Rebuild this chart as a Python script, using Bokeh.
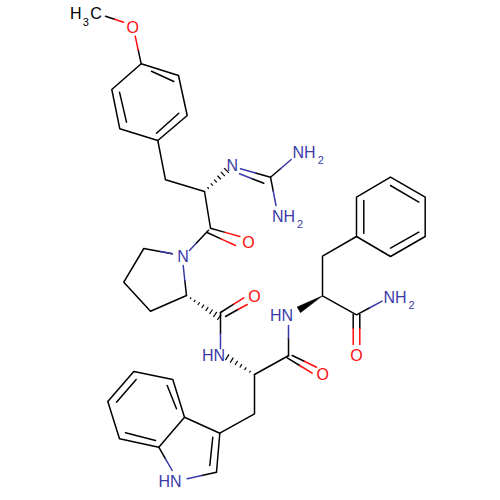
from bokeh.plotting import figure
from bokeh.models import Range1d
from bokeh.embed import file_html
from bokeh.resources import INLINE
from bokeh.core.properties import value

BLACK = "#000000"
BLUE = "#3a3aa8"
RED = "#ff0d0d"

# --- Black bond chains (picture coordinates, y grows downward) ---
methyl_x = [105, 114]; methyl_y = [15.7, 18.7]
ether_x = [137.7, 140.7]; ether_y = [49.5, 63.3]
tyr_ring_x = [140.7, 178, 186.7, 157.3, 119.3, 111.3, 140.7]
tyr_ring_y = [63.3, 75, 115, 140, 128.3, 89, 63.3]
tyr_d1_x = [151, 173.3]; tyr_d1_y = [70.7, 81]
tyr_d2_x = [178.3, 156]; tyr_d2_y = [112.7, 132.7]
tyr_d3_x = [126, 119]; tyr_d3_y = [121.7, 91.7]
tyr_chain_x = [157.3, 165, 204, 210]; tyr_chain_y = [140, 179.3, 191, 227.7]
tyr_co1_x = [210, 224.6]; tyr_co1_y = [227.7, 231.9]
tyr_co2_x = [206, 220.5]; tyr_co2_y = [231.7, 238.4]
tyr_cn_x = [208, 195.5]; tyr_cn_y = [229.7, 243]
guan1_x = [255, 270]; guan1_y = [172.5, 176.7]
guan2_x = [251, 263.3]; guan2_y = [178, 182.7]
guan3_x = [280.3, 270, 272.8]; guan3_y = [168, 176.7, 190.8]

pro_ring_x = [171.7, 143.3, 123.3, 150, 186, 184.3]
pro_ring_y = [253.3, 248, 281.7, 310.7, 295, 280]
pro_co1_x = [220, 233.3]; pro_co1_y = [312, 303.7]
pro_co2_x = [225, 237.5]; pro_co2_y = [316, 309]
pro_cn_x = [220, 220]; pro_cn_y = [312, 333]

trp_chain_x = [288.3, 254, 254, 219.3]; trp_chain_y = [355, 374, 413.3, 432.7]
trp_n_x = [288, 288]; trp_n_y = [338, 355]
trp_co1_x = [291.7, 303.8]; trp_co1_y = [355, 360.8]
trp_co2_x = [286.7, 299.2]; trp_co2_y = [357.3, 365]
indole_a_x = [216, 219.3, 184, 172.3, 133.3, 107.3, 119, 158.3, 184]
indole_a_y = [471.7, 432.7, 416.7, 379, 371, 401, 438.3, 446.7, 416.7]
indole_b_x = [216, 201.3]; indole_b_y = [471.7, 475]
indole_c_x = [158.3, 165]; indole_c_y = [446.7, 458.3]
indole_d1_x = [176, 166.7]; indole_d1_y = [408.3, 385]
indole_d2_x = [135.7, 116]; indole_d2_y = [379, 401.7]
indole_d3_x = [125, 155]; indole_d3_y = [432.3, 440]
indole_d4_x = [209.3, 212.3]; indole_d4_y = [465, 436.7]

phe_ring_x = [390, 424.7, 424.7, 390, 356, 356, 390]
phe_ring_y = [176.7, 196.7, 236, 256, 236, 196.7, 176.7]
phe_d1_x = [363.3, 363.3]; phe_d1_y = [200, 232.7]
phe_d2_x = [390, 418.3]; phe_d2_y = [185, 201.7]
phe_d3_x = [418.3, 390]; phe_d3_y = [231.7, 247.7]
phe_chain_x = [356, 322, 322, 356, 368.8]; phe_chain_y = [236, 255.7, 295.3, 314.3, 307.5]
phe_co1_x = [352.7, 352.7]; phe_co1_y = [314, 328]
phe_co2_x = [359.3, 359.3]; phe_co2_y = [314, 328]

# --- Coloured halves of bonds ---
red_ether_x = [134.7, 137.7]; red_ether_y = [35.7, 49.5]
red_methyl_x = [114, 123]; red_methyl_y = [18.7, 21.7]
red_tyr1_x = [224.6, 239.3]; red_tyr1_y = [231.9, 236]
red_tyr2_x = [220.5, 235]; red_tyr2_y = [238.4, 245]
red_pro1_x = [233.3, 243.3]; red_pro1_y = [303.7, 297.3]
red_pro2_x = [237.5, 246.7]; red_pro2_y = [309, 304]
red_trp1_x = [303.8, 316]; red_trp1_y = [360.8, 366.7]
red_trp2_x = [299.2, 311.7]; red_trp2_y = [365, 372.7]
red_phe1_x = [352.7, 352.7]; red_phe1_y = [328, 344]
red_phe2_x = [359.3, 359.3]; red_phe2_y = [328, 344]

blue_tyr_x = [195.5, 189]; blue_tyr_y = [243, 250]
blue_guan1_x = [240, 255]; blue_guan1_y = [168.3, 172.5]
blue_guan2_x = [239, 251]; blue_guan2_y = [173.3, 178]
blue_guan3_x = [280.3, 290.7]; blue_guan3_y = [168, 159]
blue_guan4_x = [272.8, 275.5]; blue_guan4_y = [190.8, 205]
blue_pro1_x = [171.7, 160]; blue_pro1_y = [253.3, 251]
blue_pro2_x = [182.7, 184.3]; blue_pro2_y = [265, 280]
blue_pro3_x = [220, 220]; blue_pro3_y = [333, 348.3]
blue_trp_x = [288, 288]; blue_trp_y = [325, 338]
blue_ind1_x = [201.3, 186.7]; blue_ind1_y = [475, 478.3]
blue_ind2_x = [165, 171.7]; blue_ind2_y = [458.3, 470]
blue_phe_x = [368.8, 381.7]; blue_phe_y = [307.5, 300.7]

# --- Stereo bonds ---
wedge_from_x = [322]; wedge_from_y = [295.3]
wedge_to_x = [298.3]; wedge_to_y = [309.3]
hash_from_x = [204, 186, 254]
hash_from_y = [191, 295, 374]
hash_to_x = [226, 218.7, 226.7]
hash_to_y = [170, 316.7, 356.7]
hash_counts = [7, 9, 7]

# --- Atom labels ---
label_text = ["H", "C", "O", "N", "NH", "NH", "O", "N", "O", "HN", "O", "HN", "NH", "O", "HN"]
label_x = [69.5, 89.7, 132.3, 231.7, 292, 271.5, 248, 182.5, 254, 201.5, 322.3, 269.5, 383, 356, 158]
label_y = [13, 13, 26.5, 165, 151.5, 216, 241.5, 256, 296, 355, 374, 315, 297, 354.5, 481]
label_color = [BLACK, BLACK, RED, BLUE, BLUE, BLUE, RED, BLUE, RED, BLUE, RED, BLUE, BLUE, RED, BLUE]
label_align = ["left", "left", "center", "center", "left", "left", "center", "center", "center",
               "left", "center", "left", "left", "center", "left"]
sub_text = ["3", "2", "2", "2"]
sub_x = [82.2, 317.3, 296.5, 408]
sub_y = [21, 159, 223.5, 304]
sub_color = [BLACK, BLUE, BLUE, BLUE]

p = figure(width=492, height=492, output_backend="svg", toolbar_location=None,
           x_range=Range1d(0, 492), y_range=Range1d(492, 0),
           x_axis_type=None, y_axis_type=None, min_border=0, outline_line_color=None)
p.grid.visible = False
p.background_fill_color = "white"


def chain(x, y, color):
    p.line(x, y, line_color=color, line_width=1.5, line_cap="round", line_join="round")


for x, y in [
    (methyl_x, methyl_y), (ether_x, ether_y), (tyr_ring_x, tyr_ring_y),
    (tyr_d1_x, tyr_d1_y), (tyr_d2_x, tyr_d2_y), (tyr_d3_x, tyr_d3_y),
    (tyr_chain_x, tyr_chain_y), (tyr_co1_x, tyr_co1_y), (tyr_co2_x, tyr_co2_y),
    (tyr_cn_x, tyr_cn_y), (guan1_x, guan1_y), (guan2_x, guan2_y), (guan3_x, guan3_y),
    (pro_ring_x, pro_ring_y), (pro_co1_x, pro_co1_y), (pro_co2_x, pro_co2_y),
    (pro_cn_x, pro_cn_y), (trp_chain_x, trp_chain_y), (trp_n_x, trp_n_y),
    (trp_co1_x, trp_co1_y), (trp_co2_x, trp_co2_y), (indole_a_x, indole_a_y),
    (indole_b_x, indole_b_y), (indole_c_x, indole_c_y), (indole_d1_x, indole_d1_y),
    (indole_d2_x, indole_d2_y), (indole_d3_x, indole_d3_y), (indole_d4_x, indole_d4_y),
    (phe_ring_x, phe_ring_y), (phe_d1_x, phe_d1_y), (phe_d2_x, phe_d2_y),
    (phe_d3_x, phe_d3_y), (phe_chain_x, phe_chain_y), (phe_co1_x, phe_co1_y),
    (phe_co2_x, phe_co2_y),
]:
    chain(x, y, BLACK)

for x, y in [
    (red_ether_x, red_ether_y), (red_methyl_x, red_methyl_y), (red_tyr1_x, red_tyr1_y),
    (red_tyr2_x, red_tyr2_y), (red_pro1_x, red_pro1_y), (red_pro2_x, red_pro2_y),
    (red_trp1_x, red_trp1_y), (red_trp2_x, red_trp2_y), (red_phe1_x, red_phe1_y),
    (red_phe2_x, red_phe2_y),
]:
    chain(x, y, RED)

for x, y in [
    (blue_tyr_x, blue_tyr_y), (blue_guan1_x, blue_guan1_y), (blue_guan2_x, blue_guan2_y),
    (blue_guan3_x, blue_guan3_y), (blue_guan4_x, blue_guan4_y), (blue_pro1_x, blue_pro1_y),
    (blue_pro2_x, blue_pro2_y), (blue_pro3_x, blue_pro3_y), (blue_trp_x, blue_trp_y),
    (blue_ind1_x, blue_ind1_y), (blue_ind2_x, blue_ind2_y), (blue_phe_x, blue_phe_y),
]:
    chain(x, y, BLUE)

# Solid wedge: a triangle widening towards the substituent
for x0, y0, x1, y1 in zip(wedge_from_x, wedge_from_y, wedge_to_x, wedge_to_y):
    dx, dy = x1 - x0, y1 - y0
    n = (dx * dx + dy * dy) ** 0.5
    ox, oy = -dy / n * 3.3, dx / n * 3.3
    p.patch([x0, x1 + ox, x1 - ox], [y0, y1 + oy, y1 - oy],
            fill_color=BLACK, line_color=BLACK, line_width=0.5)

# Hashed wedges: short strokes widening towards the substituent
for x0, y0, x1, y1, c in zip(hash_from_x, hash_from_y, hash_to_x, hash_to_y, hash_counts):
    dx, dy = x1 - x0, y1 - y0
    n = (dx * dx + dy * dy) ** 0.5
    ux, uy = -dy / n, dx / n
    sx0, sy0, sx1, sy1 = [], [], [], []
    for i in range(c):
        t = i / (c - 1)
        w = 0.6 + 2.8 * t
        cx, cy = x0 + dx * t, y0 + dy * t
        sx0.append(cx + ux * w); sy0.append(cy + uy * w)
        sx1.append(cx - ux * w); sy1.append(cy - uy * w)
    p.segment(sx0, sy0, sx1, sy1, line_color=BLACK, line_width=1.2)

FONT = value("Liberation Sans")
for al in ("left", "center"):
    idx = [i for i, a in enumerate(label_align) if a == al]
    p.text([label_x[i] for i in idx], [label_y[i] for i in idx],
           text=[label_text[i] for i in idx],
           text_color=[label_color[i] for i in idx],
           text_font=FONT, text_font_size="16px",
           text_align=al, text_baseline="middle")
p.text(sub_x, sub_y, text=sub_text, text_color=sub_color, text_font=FONT,
       text_font_size="11px", text_align="left", text_baseline="middle")

open("out.html", "w").write(file_html(p, INLINE))
